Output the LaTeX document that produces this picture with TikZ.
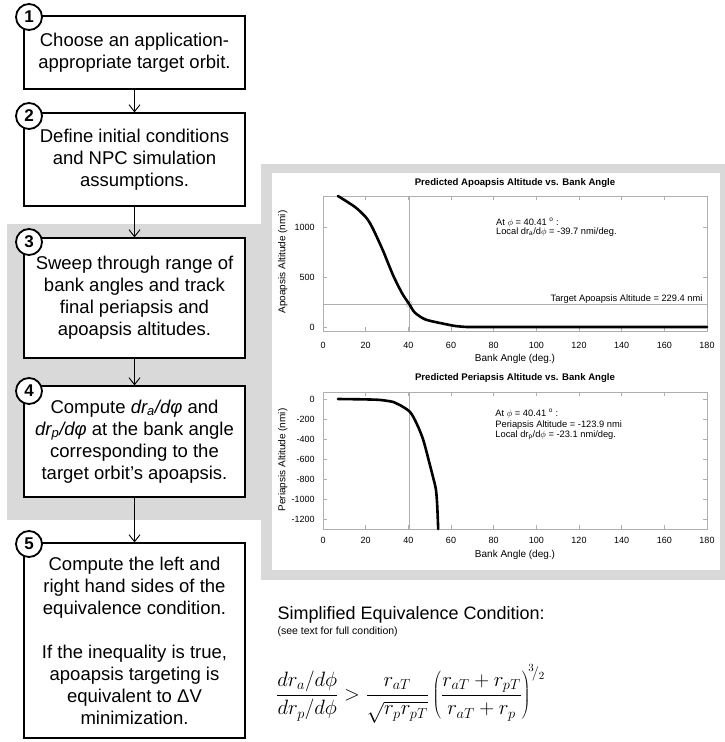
\documentclass[tikz,border=0pt]{standalone}
\usepackage{fontspec}
\setmainfont{Liberation Sans}
\usetikzlibrary{arrows.meta}
\definecolor{panel}{RGB}{217,217,217}
\definecolor{axgray}{RGB}{175,175,175}
\begin{document}
\begin{tikzpicture}[x=1pt,y=-1pt,
  stepbox/.style={draw, line width=1.2pt, fill=white, minimum width=221pt, align=center,
    font=\fontsize{18.5}{22}\selectfont, inner sep=0pt},
  num/.style={circle, draw, line width=1.8pt, fill=white, minimum size=26pt, inner sep=0pt,
    font=\bfseries\fontsize{17}{17}\selectfont},
  arr/.style={line width=0.9pt, -{Straight Barb[length=7pt,width=11pt]}},
  tick/.style={font=\fontsize{9}{10}\selectfont},
  axlab/.style={font=\fontsize{10}{11}\selectfont},
  ptitle/.style={font=\bfseries\fontsize{9.6}{11}\selectfont},
  note/.style={font=\fontsize{9.3}{10.5}\selectfont, anchor=west},
  frame/.style={draw=axgray, line width=0.6pt},
  curve/.style={line width=2.6pt, line join=round, line cap=round}
]
\useasboundingbox (0,0) rectangle (725,742);
% panels
\fill[panel] (261,164) rectangle (725,580);
\fill[panel] (7,224) rectangle (262,520);
\fill[white] (272,173) rectangle (720,570);

% boxes
\node[stepbox, minimum height=73pt] (b1) at (134.5,52.5) {Choose an application-\\appropriate target orbit.};
\node[stepbox, minimum height=93pt] (b2) at (134.5,159.5) {Define initial conditions\\and NPC simulation\\assumptions.};
\node[stepbox, minimum height=120pt] (b3) at (134.5,298) {Sweep through range of\\bank angles and track\\final periapsis and\\apoapsis altitudes.};
\node[stepbox, minimum height=111pt] (b4) at (134.5,441.5) {Compute \textit{dr\textsubscript{a}/dφ} and\\\textit{dr\textsubscript{p}/dφ} at the bank angle\\corresponding to the\\target orbit’s apoapsis.};
\node[stepbox, minimum height=195pt] (b5) at (134.5,640.5) {Compute the left and\\right hand sides of the\\equivalence condition.\\[22pt]If the inequality is true,\\apoapsis targeting is\\equivalent to ΔV\\minimization.};

\node[num] (n1) at (29,17) {1};
\node[num] (n2) at (29,116) {2};
\node[num] (n3) at (29,242) {3};
\node[num] (n4) at (29,391) {4};
\node[num] (n5) at (29,544) {5};

\draw[arr] (b1.south) -- (b2.north);
\draw[arr] (b2.south) -- (b3.north);
\draw[arr] (b3.south) -- (b4.north);
\draw[arr] (b4.south) -- (b5.north);

% top plot
\begin{scope}[shift={(323,327)}, x=2.1333pt, y=0.1pt]
  \draw[frame] (0,-40) rectangle (180,1310);
  \foreach \t in {20,40,...,160} {
    \draw[axgray, line width=0.5pt] (\t,-40) -- ++(0,4pt);
    \draw[axgray, line width=0.5pt] (\t,1310) -- ++(0,-4pt);
  }
  \foreach \v in {0,500,1000} {
    \draw[axgray, line width=0.5pt] (0,\v) -- ++(4pt,0);
    \draw[axgray, line width=0.5pt] (180,\v) -- ++(-4pt,0);
    \node[tick, anchor=east] (ty\v) at (-2.3,\v) {\v};
  }
  \foreach \t in {0,20,...,180} {\node[tick] (tx\t) at (\t,-180) {\t};}
  \draw[axgray, line width=0.5pt] (40.41,-40) -- (40.41,1310);
  \draw[axgray, line width=0.5pt] (0,229.4) -- (180,229.4);
  \draw[axgray, line width=0.5pt] (40.41,229.4) circle (3pt);
  \node[axlab] (xl1) at (90,-320) {Bank Angle (deg.)};
  \node[ptitle] (t1) at (90,1440) {Predicted Apoapsis Altitude vs. Bank Angle};
  \node[axlab, rotate=90] (yl1) at (-18.8,650) {Apoapsis Altitude (nmi)};
  \node[note] (a1) at (79.5,1040) {At $\phi$ = 40.41 $^{\mathrm{o}}$ :};
  \node[note] (a2) at (79.5,945) {Local dr\textsubscript{a}/d$\phi$ = -39.7 nmi/deg.};
  \node[note, anchor=east] (tg) at (179.5,282) {Target Apoapsis Altitude = 229.4 nmi};
  \draw[curve] plot[smooth, tension=0.45] coordinates {(7,1310) (15,1200) (20,1100) (23,1000) (28,770) (32.8,520) (37,340) (40.4,230) (43,145) (48,75) (56,35) (62,10) (67.5,0)} -- (180,0);
\end{scope}

% bottom plot
\begin{scope}[shift={(323,399)}, x=2.1333pt, y=0.1pt]
  \draw[frame] (0,-1300) rectangle (180,70);
  \foreach \t in {20,40,...,160} {
    \draw[axgray, line width=0.5pt] (\t,-1300) -- ++(0,4pt);
    \draw[axgray, line width=0.5pt] (\t,70) -- ++(0,-4pt);
  }
  \foreach \v in {0,-200,-400,-600,-800,-1000,-1200} {
    \draw[axgray, line width=0.5pt] (0,\v) -- ++(4pt,0);
    \draw[axgray, line width=0.5pt] (180,\v) -- ++(-4pt,0);
    \node[tick, anchor=east] at (-2.3,\v) {\v};
  }
  \foreach \t in {0,20,...,180} {\node[tick] (bx\t) at (\t,-1410) {\t};}
  \draw[axgray, line width=0.5pt] (40.41,-1300) -- (40.41,70);
  \node[axlab] (xl2) at (90,-1560) {Bank Angle (deg.)};
  \node[ptitle] (t2) at (90,210) {Predicted Periapsis Altitude vs. Bank Angle};
  \node[axlab, rotate=90] (yl2) at (-18.8,-610) {Periapsis Altitude (nmi)};
  \node[note] (p1) at (79.2,-150) {At $\phi$ = 40.41 $^{\mathrm{o}}$ :};
  \node[note] (p2) at (79.2,-258) {Periapsis Altitude = -123.9 nmi};
  \node[note] (p3) at (79.2,-360) {Local dr\textsubscript{p}/d$\phi$ = -23.1 nmi/deg.};
  \draw[curve] plot[smooth, tension=0.5] coordinates {(7,0) (20,-4) (27,-10) (33,-30) (36,-60) (40.8,-130) (44,-250) (47,-410) (50,-650) (51.8,-800) (52.9,-900) (53.5,-1050) (54,-1300)};
\end{scope}

% equivalence condition
\node[anchor=west, font=\fontsize{18}{20}\selectfont] (se) at (274,615) {Simplified Equivalence Condition:};
\node[anchor=west, font=\fontsize{10.5}{12}\selectfont] (st) at (274,632) {(see text for full condition)};
\node[anchor=west, inner sep=0pt, font=\fontsize{22.5}{26}\selectfont] (eq) at (276,694)
  {$\displaystyle \frac{dr_a/d\phi}{dr_p/d\phi} > \frac{r_{aT}}{\sqrt{r_p r_{pT}}}\left(\frac{r_{aT}+r_{pT}}{r_{aT}+r_p}\right)^{\!{}^{3}\!/{}_{2}}$};
\end{tikzpicture}
\end{document}
